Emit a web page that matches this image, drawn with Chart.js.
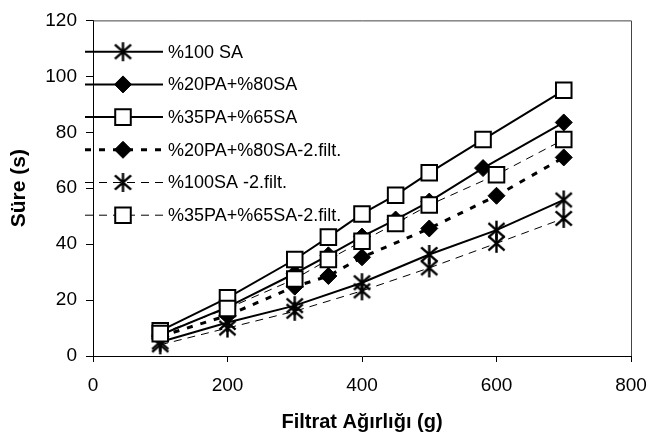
<!DOCTYPE html>
<html>
<head>
<meta charset="utf-8">
<script src="https://cdn.jsdelivr.net/npm/chart.js@4.4.0/dist/chart.umd.min.js"></script>
<style>
  body { margin: 0; background: #fff; }
  canvas { display: block; }
</style>
</head>
<body>
<canvas id="filtChart" width="661" height="441"></canvas>
<script>
// eksen etiketleri
const xTicks = [0, 200, 400, 600, 800];
const yTicks = [0, 20, 40, 60, 80, 100, 120];

// seriler (x = filtrat agirligi, y = sure)
const sa100X = [100, 200, 300, 400, 500, 600, 700];
const sa100Y = [5, 12, 18, 26.2, 36.3, 45, 55.8];

const pa20X = [100, 200, 300, 350, 400, 450, 500, 580, 700];
const pa20Y = [7.5, 17.5, 29.5, 36, 42.7, 48.8, 55.2, 67.2, 83.5];

const pa35X = [100, 200, 300, 350, 400, 450, 500, 580, 700];
const pa35Y = [9, 20.8, 34.5, 42.5, 50.8, 57.5, 65.5, 77.4, 95];

const pa20f2X = [100, 200, 300, 350, 400, 500, 600, 700];
const pa20f2Y = [7, 14.5, 24.8, 28.6, 35.3, 45.6, 57.3, 71];

const sa100f2X = [100, 200, 300, 400, 500, 600, 700];
const sa100f2Y = [4, 10, 16, 23.3, 31.5, 40.3, 49.2];

const pa35f2X = [100, 200, 300, 350, 400, 450, 500, 600, 700];
const pa35f2Y = [8, 17, 27.5, 34.5, 41, 47.4, 54, 64.8, 77.4];

const FONT = '"Liberation Sans", Arial, sans-serif';

function pts(xs, ys) {
    return xs.map((x, i) => ({ x: x, y: ys[i] }));
}

// yildiz isareti (dikey cizgi + X)
function makeAsterisk(size) {
    const c = document.createElement('canvas');
    c.width = size; c.height = size;
    const g = c.getContext('2d');
    const m = size / 2, r = size / 2 - 1;
    g.strokeStyle = '#000';
    g.lineWidth = 2.4;
    g.beginPath();
    g.moveTo(m, m - r); g.lineTo(m, m + r);
    g.moveTo(m - r * 0.85, m - r * 0.75); g.lineTo(m + r * 0.85, m + r * 0.75);
    g.moveTo(m + r * 0.85, m - r * 0.75); g.lineTo(m - r * 0.85, m + r * 0.75);
    g.stroke();
    return c;
}
const asterisk = makeAsterisk(21);

function series(label, xs, ys, style, order) {
    return Object.assign({
        label: label,
        data: pts(xs, ys),
        showLine: true,
        borderColor: '#000',
        pointBorderColor: '#000',
        tension: 0,
        order: order
    }, style);
}

const datasets = [
    series('%100 SA', sa100X, sa100Y, {
        borderWidth: 2, pointStyle: asterisk, pointRadius: 10
    }, 6),
    series('%20PA+%80SA', pa20X, pa20Y, {
        borderWidth: 2, pointStyle: 'rectRot', pointRadius: 8.5,
        pointBackgroundColor: '#000', pointBorderWidth: 1
    }, 5),
    series('%35PA+%65SA', pa35X, pa35Y, {
        borderWidth: 2, pointStyle: 'rect', pointRadius: 11,
        pointBackgroundColor: '#fff', pointBorderWidth: 2
    }, 4),
    series('%20PA+%80SA-2.filt.', pa20f2X, pa20f2Y, {
        borderWidth: 3, borderDash: [6, 8], pointStyle: 'rectRot', pointRadius: 8.5,
        pointBackgroundColor: '#000', pointBorderWidth: 1
    }, 3),
    series('%100SA -2.filt.', sa100f2X, sa100f2Y, {
        borderWidth: 1, borderDash: [8, 6], pointStyle: asterisk, pointRadius: 10
    }, 2),
    series('%35PA+%65SA-2.filt.', pa35f2X, pa35f2Y, {
        borderWidth: 1, borderDash: [8, 6], pointStyle: 'rect', pointRadius: 11,
        pointBackgroundColor: '#fff', pointBorderWidth: 2
    }, 1)
];

// cizim alani cercevesi (ust ve sag)
const frame = {
    id: 'frame',
    afterDraw(chart) {
        const a = chart.chartArea, ctx = chart.ctx;
        ctx.save();
        ctx.strokeStyle = '#444';
        ctx.lineWidth = 1;
        ctx.beginPath();
        ctx.moveTo(a.left, a.top + 0.5);
        ctx.lineTo(a.right + 0.5, a.top + 0.5);
        ctx.lineTo(a.right + 0.5, a.bottom);
        ctx.stroke();
        ctx.restore();
    }
};

// lejant (grafik icinde, sol ust)
const insideLegend = {
    id: 'insideLegend',
    afterDatasetsDraw(chart) {
        const ctx = chart.ctx;
        const x0 = 85, x1 = 163, mx = 123, tx = 168;
        chart.data.datasets.forEach((ds, i) => {
            const y = 51.7 + i * 32.7;
            ctx.save();
            ctx.strokeStyle = '#000';
            ctx.lineWidth = ds.borderWidth;
            ctx.setLineDash(ds.borderDash || []);
            ctx.beginPath();
            ctx.moveTo(x0, y);
            ctx.lineTo(x1, y);
            ctx.stroke();
            ctx.setLineDash([]);
            ctx.fillStyle = ds.pointBackgroundColor || '#000';
            ctx.strokeStyle = '#000';
            ctx.lineWidth = ds.pointBorderWidth || 1;
            Chart.helpers.drawPoint(ctx, {
                pointStyle: ds.pointStyle, radius: ds.pointRadius,
                rotation: 0, borderWidth: ds.pointBorderWidth || 1
            }, mx, y);
            ctx.fillStyle = '#000';
            ctx.font = '18px ' + FONT;
            ctx.textBaseline = 'middle';
            ctx.fillText(ds.label, tx, y + 1);
            ctx.restore();
        });
    }
};

new Chart(document.getElementById('filtChart'), {
    type: 'scatter',
    data: { datasets: datasets },
    options: {
        responsive: false,
        animation: false,
        layout: { padding: { top: 15, right: 30, left: 0, bottom: 0 } },
        plugins: {
            legend: { display: false },
            tooltip: { enabled: false }
        },
        scales: {
            x: {
                type: 'linear',
                min: 0,
                max: 800,
                afterBuildTicks: s => { s.ticks = xTicks.map(v => ({ value: v })); },
                afterFit: s => { s.height = 85; },
                grid: { drawOnChartArea: false, drawTicks: true, tickLength: 6, tickColor: '#000' },
                border: { color: '#000', width: 1 },
                ticks: { color: '#000', font: { family: FONT, size: 19 }, padding: 12, maxRotation: 0 },
                title: {
                    display: true,
                    text: 'Filtrat Ağırlığı (g)',
                    color: '#000',
                    font: { family: FONT, size: 20, weight: 'bold' },
                    padding: { top: 0, bottom: 7 }
                }
            },
            y: {
                min: 0,
                max: 120,
                afterBuildTicks: s => { s.ticks = yTicks.map(v => ({ value: v })); },
                afterFit: s => { s.width = 93; },
                grid: { drawOnChartArea: false, drawTicks: true, tickLength: 7, tickColor: '#000' },
                border: { color: '#000', width: 1 },
                ticks: { color: '#000', font: { family: FONT, size: 19 }, padding: 9 },
                title: {
                    display: true,
                    text: 'Süre (s)',
                    color: '#000',
                    font: { family: FONT, size: 21, weight: 'bold' },
                    padding: { top: 7, bottom: 0 }
                }
            }
        }
    },
    plugins: [frame, insideLegend]
});
</script>
</body>
</html>
